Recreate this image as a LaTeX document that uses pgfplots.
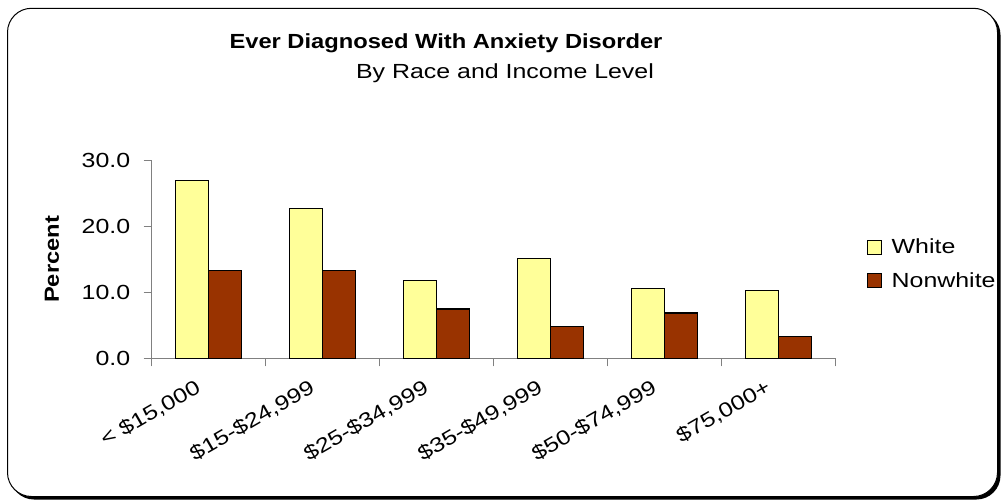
\documentclass[border=0pt]{standalone}
\usepackage{fontspec}
\setmainfont{Liberation Sans}[FakeStretch=1.22]
\newfontfamily\boldstretch{Liberation Sans}[FakeStretch=1.16]
\usepackage{pgfplots}
\usepackage{pgfplotstable}
\pgfplotsset{compat=1.18}
\definecolor{whitebar}{HTML}{FFFF99}
\definecolor{nonwhitebar}{HTML}{993300}
\definecolor{axisgray}{HTML}{808080}

% percent ever diagnosed, by income bracket
\pgfplotstableread{
x white nonwhite
0.5 27.0 13.3
1.5 22.7 13.3
2.5 11.8 7.5
3.5 15.2 4.8
4.5 10.6 6.9
5.5 10.3 3.3
}\anxiety

\pgfplotsset{
  squarelegend/.style={legend image code/.code={
    \draw[##1, line width=1bp] (0bp,-7bp) rectangle (14bp,7bp);}},
}

\begin{document}
\begin{tikzpicture}
% page frame and shadow
\path (0bp,0bp) rectangle (1002bp,-502bp);
\fill[black, rounded corners=24bp] (10bp,-11bp) rectangle (1000.5bp,-499.5bp);
\draw[fill=white, line width=1bp, rounded corners=24bp] (7.5bp,-8.3bp) rectangle (997.5bp,-496.5bp);

\node[font=\boldstretch\bfseries\fontsize{20.5}{24}\selectfont, anchor=base] at (446bp,-48bp)
  {Ever Diagnosed With Anxiety Disorder};
\node[font=\fontsize{20.5}{24}\selectfont, anchor=base] at (505bp,-78.3bp)
  {By Race and Income Level};

\begin{axis}[
    at={(151.7bp,-358.3bp)}, anchor=south west,
    scale only axis, width=684bp, height=197.6bp,
    xmin=0, xmax=6, ymin=0, ymax=30,
    axis x line*=bottom, axis y line*=left,
    axis line style={axisgray, line width=1bp, -},
    ybar=0pt, bar width=33bp,
    xtick={0.5,1.5,2.5,3.5,4.5,5.5},
    xticklabels={{< \$15,000}, {\$15-\$24,999}, {\$25-\$34,999}, {\$35-\$49,999}, {\$50-\$74,999}, {\$75,000+}},
    minor xtick={0,1,2,3,4,5,6},
    major x tick style={draw=none},
    tick style={axisgray, line width=1bp},
    tick align=outside, major tick length=8bp, minor tick length=8bp,
    ytick={0,10,20,30},
    /pgf/number format/fixed, /pgf/number format/fixed zerofill,
    /pgf/number format/precision=1, /pgf/number format/assume math mode=true,
    ticklabel style={font=\fontsize{20.5}{24}\selectfont},
    xticklabel style={xshift=-13bp, yshift=-7bp, rotate=30, anchor=north east},
    yticklabel style={xshift=-10bp},
    ylabel={\boldstretch\bfseries Percent},
    ylabel style={font=\fontsize{20.5}{24}\selectfont, at={(axis description cs:-0.146,0.5)}, anchor=center},
    legend cell align=left,
    legend style={at={(axis description cs:1.045,0.615)}, anchor=north west, draw=none, fill=none,
      font=\fontsize{20.5}{24}\selectfont, row sep=13bp, inner sep=0pt,
      /tikz/every odd column/.append style={column sep=8bp}},
]
\addplot[fill=whitebar, draw=black, line width=1.3bp, squarelegend] table[x=x, y=white] {\anxiety};
\addlegendentry{White}
\addplot[fill=nonwhitebar, draw=black, line width=1.3bp, squarelegend] table[x=x, y=nonwhite] {\anxiety};
\addlegendentry{Nonwhite}
\end{axis}
\end{tikzpicture}
\end{document}
